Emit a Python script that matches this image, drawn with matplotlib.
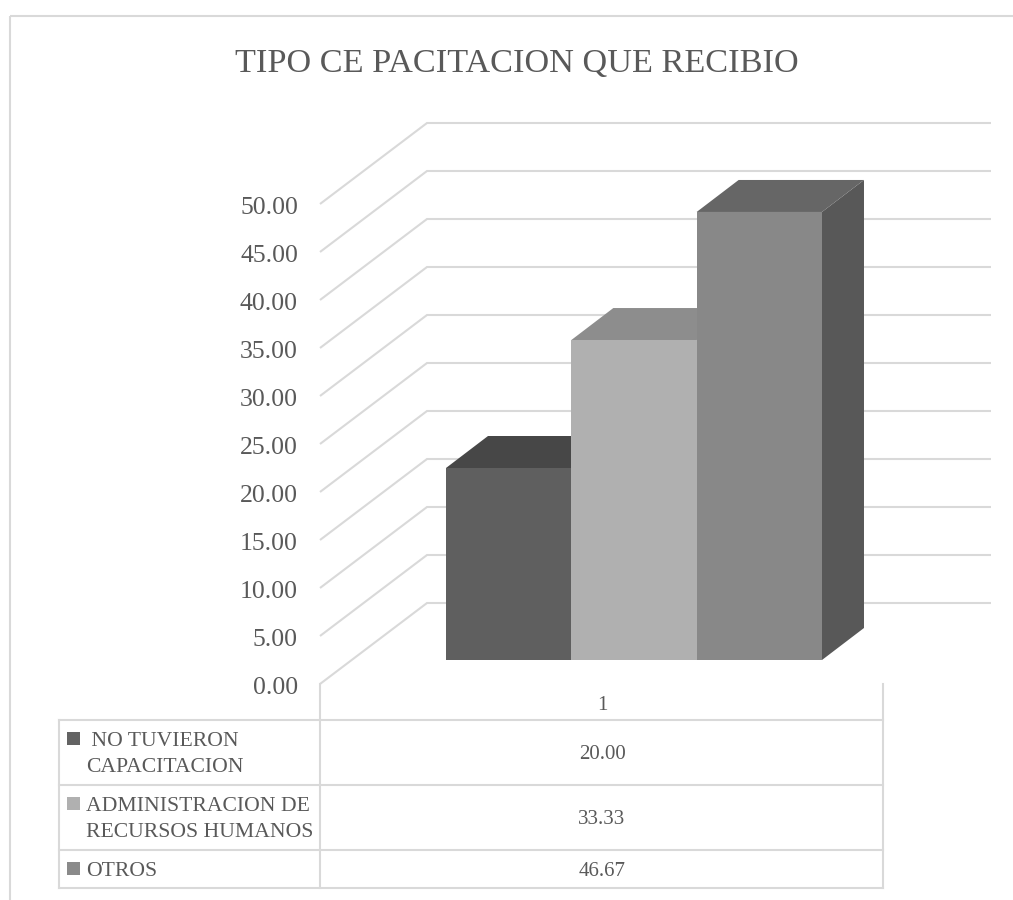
import matplotlib
matplotlib.use("Agg")
import matplotlib.pyplot as plt

titulo = "TIPO CE PACITACION QUE RECIBIO"
categoria = "1"
series = [" NO TUVIERON\nCAPACITACION", "ADMINISTRACION DE\nRECURSOS HUMANOS", "OTROS"]
valores = [20.00, 33.33, 46.67]
ticks = [0, 5, 10, 15, 20, 25, 30, 35, 40, 45, 50]

col_frente = ["#5f5f5f", "#b0b0b0", "#888888"]
col_arriba = ["#474747", "#8d8d8d", "#666666"]
col_lado = ["#3f3f3f", "#7d7d7d", "#585858"]
col_legend = ["#636363", "#b0b0b0", "#8a8a8a"]
gris = "#d9d9d9"
texto = "#595959"

plt.rcParams['font.family'] = ['Liberation Serif', 'DejaVu Serif']

fig = plt.figure(figsize=(10.13, 9), dpi=100)
ax = fig.add_axes([0, 0, 1, 1])
ax.set_xlim(0, 1013)
ax.set_ylim(900, 0)
ax.axis("off")

# marco
ax.plot([9.5, 9.5], [900, 15.5], c=gris, lw=1.5, solid_capstyle='butt')
ax.plot([9.5, 1013], [15.5, 15.5], c=gris, lw=1.5, solid_capstyle='butt')

ax.text(517, 72, titulo, ha='center', va='baseline', fontsize=24.7, color=texto)

# escala del eje y, en pixeles
y0 = 684
esc = 9.6
ox, oy = 107, -81
x_der = 991

def py(v):
    return y0 - v * esc

for t in ticks:
    y = py(t)
    ax.plot([320, 320 + ox, x_der], [y, y + oy, y + oy], c=gris, lw=1.5,
            solid_joinstyle='miter', solid_capstyle='butt')
    ax.text(298, y + 10, f"{t:.2f}", ha='right', va='baseline', fontsize=18.5, color=texto)

# barras
x_bar = 446
ancho = 125.33
base = 660
dx, dy = 42, -32
for i, v in enumerate(valores):
    x1 = x_bar + i * ancho
    x2 = x1 + ancho
    top = base - v * esc
    ax.fill([x2, x2 + dx, x2 + dx, x2], [base, base + dy, top + dy, top], c=col_lado[i], lw=0, zorder=3 + i)
    ax.fill([x1, x1 + dx, x2 + dx, x2], [top, top + dy, top + dy, top], c=col_arriba[i], lw=0, zorder=3 + i)
    ax.fill([x1, x2, x2, x1], [base, base, top, top], c=col_frente[i], lw=0, zorder=3 + i)

# tabla de datos
t_izq, t_med, t_der = 59, 320, 883
filas = [720, 785, 850, 888]
ax.plot([t_med, t_med], [y0, filas[-1]], c=gris, lw=1.5)
ax.plot([t_der, t_der], [y0, filas[-1]], c=gris, lw=1.5)
ax.plot([t_izq, t_izq], [filas[0], filas[-1]], c=gris, lw=1.5)
for y in filas:
    ax.plot([t_izq, t_der], [y, y], c=gris, lw=1.5)
ax.text(602, 706, categoria, ha='center', va='center', fontsize=15, color=texto)
for i, s in enumerate(series):
    mid = (filas[i] + filas[i + 1]) / 2
    ax.text(602, mid + 2, f"{valores[i]:.2f}", ha='center', va='center', fontsize=15, color=texto)
    ax.text(86, mid + 2, s, ha='left', va='center', fontsize=15.6, color=texto, linespacing=1.47)
    alto = 13
    y_cuad = filas[i] + 11.5
    ax.fill([67, 80, 80, 67], [y_cuad, y_cuad, y_cuad + alto, y_cuad + alto], c=col_legend[i], lw=0)

fig.savefig("out.png", dpi=100)
